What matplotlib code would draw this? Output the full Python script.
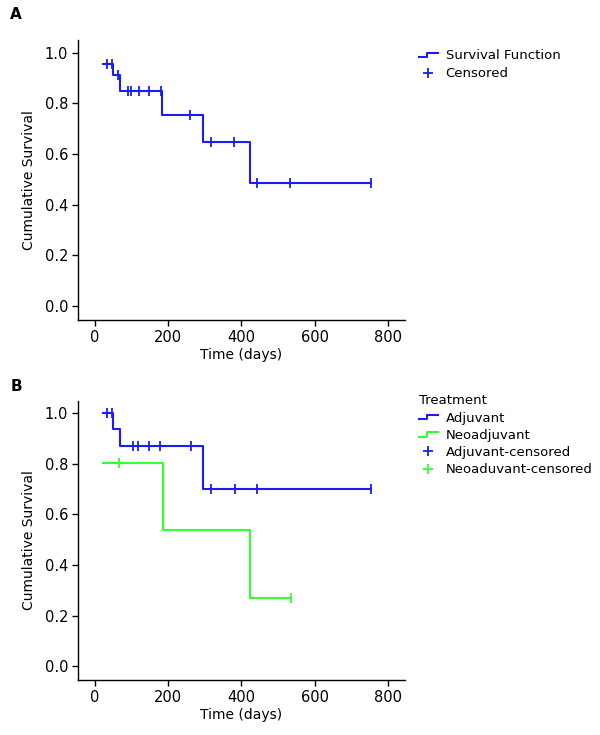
import numpy as np
import matplotlib.pyplot as plt
from matplotlib.legend_handler import HandlerLine2D
from matplotlib.lines import Line2D

plt.rcParams['font.family'] = ['DejaVu Sans']
plt.rcParams['font.size'] = 10

# Panel A - overall survival (step points: time, survival after step)
a_times = [23, 50, 70, 184, 294, 425, 755]
a_surv = [0.955, 0.912, 0.85, 0.754, 0.646, 0.485, 0.485]
a_cens_t = [34, 48, 64, 91, 100, 120, 148, 180, 260, 317, 381, 444, 534, 755]
a_cens_s = [0.955, 0.955, 0.912, 0.85, 0.85, 0.85, 0.85, 0.85, 0.754, 0.646, 0.646,
            0.485, 0.485, 0.485]

# Panel B - by treatment
adj_times = [23, 50, 70, 294, 755]
adj_surv = [1.0, 0.937, 0.871, 0.699, 0.699]
adj_cens_t = [34, 48, 103, 119, 149, 179, 262, 317, 382, 444, 755]
adj_cens_s = [1.0, 1.0, 0.871, 0.871, 0.871, 0.871, 0.871, 0.699, 0.699, 0.699, 0.699]

neo_times = [23, 185, 425, 535]
neo_surv = [0.805, 0.538, 0.268, 0.268]
neo_cens_t = [66, 535]
neo_cens_s = [0.805, 0.268]

blue = '#1a1aff'
green = '#33ff33'


class StepHandler(HandlerLine2D):
    # draws the little step icon used in the legend
    def create_artists(self, legend, orig_handle, xdescent, ydescent, width, height, fontsize, trans):
        h = height
        xs = [0, width * 0.45, width * 0.45, width]
        ys = [h * 0.25, h * 0.25, h * 0.7, h * 0.7]
        ln = Line2D(xs, ys, color=orig_handle.get_color(), lw=orig_handle.get_linewidth())
        ln.set_transform(trans)
        return [ln]


def style(ax):
    ax.set_xlim(-46, 847)
    ax.set_ylim(-0.055, 1.05)
    ax.set_xticks([0, 200, 400, 600, 800])
    ax.set_yticks([0.0, 0.2, 0.4, 0.6, 0.8, 1.0])
    ax.set_yticklabels(['0.0', '0.2', '0.4', '0.6', '0.8', '1.0'])
    ax.spines['top'].set_visible(False)
    ax.spines['right'].set_visible(False)
    for s in ['left', 'bottom']:
        ax.spines[s].set_linewidth(1.0)
    ax.tick_params(direction='out', length=4, width=1, labelsize=10.5, pad=3)
    ax.set_xlabel('Time (days)', fontsize=10, labelpad=2)
    ax.set_ylabel('Cumulative Survival', fontsize=10, labelpad=6)


fig = plt.figure(figsize=(6, 7.35), dpi=100)

axA = fig.add_axes([0.13, 0.5646, 0.545, 0.381])
axA.step(a_times, a_surv, where='post', color=blue, lw=1.5)
axA.plot(a_cens_t, a_cens_s, ls='none', marker='|', ms=7, mew=1.3, color=blue)
style(axA)
hA = Line2D([], [], color=blue, lw=1.5)
mA = Line2D([], [], ls='none', marker='+', ms=7, mew=1.3, color=blue)
axA.legend([hA, mA], ['Survival Function', 'Censored'], loc='upper left',
           bbox_to_anchor=(1.005, 1.01), frameon=False, fontsize=9.5,
           handlelength=1.5, handletextpad=0.55, labelspacing=0.4,
           handler_map={hA: StepHandler()})
fig.text(0.017, 0.99, 'A', fontweight='bold', fontsize=11, va='top')

axB = fig.add_axes([0.13, 0.0748, 0.545, 0.38])
axB.step(adj_times, adj_surv, where='post', color=blue, lw=1.5)
axB.step(neo_times, neo_surv, where='post', color=green, lw=1.5)
axB.plot(adj_cens_t, adj_cens_s, ls='none', marker='|', ms=7, mew=1.3, color=blue)
axB.plot(neo_cens_t, neo_cens_s, ls='none', marker='|', ms=7, mew=1.3, color=green)
style(axB)
h1 = Line2D([], [], color=blue, lw=1.5)
h2 = Line2D([], [], color=green, lw=1.5)
m1 = Line2D([], [], ls='none', marker='+', ms=7, mew=1.3, color=blue)
m2 = Line2D([], [], ls='none', marker='+', ms=7, mew=1.3, color=green)
legB = axB.legend([h1, h2, m1, m2],
                  ['Adjuvant', 'Neoadjuvant', 'Adjuvant-censored', 'Neoaduvant-censored'],
                  title='Treatment', loc='upper left', bbox_to_anchor=(1.005, 1.065),
                  frameon=False, fontsize=9.5, title_fontsize=9.5,
                  handlelength=1.5, handletextpad=0.55, labelspacing=0.32,
                  handler_map={h1: StepHandler(), h2: StepHandler()})
legB._legend_box.align = 'left'
fig.text(0.017, 0.485, 'B', fontweight='bold', fontsize=11, va='top')

fig.savefig('out.png', dpi=100)
